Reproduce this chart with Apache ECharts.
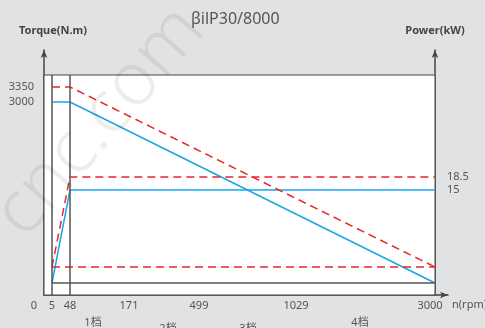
<!DOCTYPE html>
<html><head><meta charset="utf-8">
<script src="https://cdn.jsdelivr.net/npm/echarts@6/dist/echarts.min.js"></script>
<style>html,body{margin:0;padding:0;background:#e1e2e4}#c{width:485px;height:328px;background:#e1e2e4}</style>
</head><body><div id="c"></div>
<script>
// ---- data ----
const chartTitle = 'βilP30/8000';
const rpmTicks = [0, 5, 48, 171, 499, 1029, 3000];
const gearNames = ['1档', '2档', '3档', '4档'];
const torqueTicks = [3000, 3350];
const powerTicks = [15, 18.5];
const rpm = [5, 48, 3000];
const torqueS1 = [3000, 3000, 0];      // blue solid
const torqueMax = [3350, 3350, 265];   // red dashed
const powerS1 = [0, 15, 15];           // blue solid
const powerMax = [2.6, 18.5, 18.5];    // red dashed
const floorRpm = [5, 3000];
const powerMaxFloor = [2.6, 2.6];      // red dashed floor
const torqueFloor = [0, 0];            // dark base line

// ---- schematic (non-linear) scales: value anchors -> axis units ----
const X_SCALE = {v: [0, 5, 48, 171, 499, 1029, 3000], p: [0, 8, 26, 85, 155, 252, 391]};
const T_SCALE = {v: [0, 3000, 3350], p: [12, 193, 208]};
const P_SCALE = {v: [0, 15, 18.5], p: [12, 105, 118]};
const X_MAX = 404, Y_MAX = 245, PLOT_RIGHT = 391, PLOT_TOP = 220;
const gearLabelPos = [49, 124, 204, 316];

function interp(s, val) {
  const v = s.v, p = s.p;
  for (let i = 0; i < v.length - 1; i++) {
    if (val <= v[i + 1] || i === v.length - 2) {
      return p[i] + (val - v[i]) * (p[i + 1] - p[i]) / (v[i + 1] - v[i]);
    }
  }
}
const X = r => interp(X_SCALE, r);
const T = t => interp(T_SCALE, t);
const P = w => interp(P_SCALE, w);
const key = n => n.toFixed(3);

const xLabelMap = {}; rpmTicks.forEach(r => xLabelMap[key(X(r))] = r);
const tLabelMap = {}; torqueTicks.forEach(t => tLabelMap[key(T(t))] = t);
const pLabelMap = {}; powerTicks.forEach(w => pLabelMap[key(P(w))] = w);
const gMap = {}; gearLabelPos.forEach((g, i) => gMap[key(g)] = i);

const FONT = '"Noto Sans", "Noto Sans CJK SC", sans-serif';
const BLUE = '#1ba6e4', RED = '#e8262c', AXIS = '#444', TXT = '#555';
const DASH = [8, 5];
const BG = '#e1e2e4';

const chart = echarts.init(document.getElementById('c'));
chart.setOption({
  backgroundColor: BG,
  animation: false,
  title: {text: chartTitle, left: 186, top: 6,
    textStyle: {fontFamily: FONT, fontSize: 16, fontWeight: 'normal', color: TXT}},
  grid: [
    {left: 44, top: 50, width: X_MAX, height: Y_MAX, containLabel: false, outerBoundsMode: 'none'},
    {left: 44, top: 50, width: PLOT_RIGHT, height: Y_MAX, containLabel: false, outerBoundsMode: 'none'}
  ],
  xAxis: [{
    gridIndex: 0, type: 'value', min: 0, max: X_MAX,
    name: 'n(rpm)', nameLocation: 'end', nameGap: 4,
    nameTextStyle: {fontFamily: FONT, fontSize: 11, color: TXT, verticalAlign: 'top', padding: [4, 0, 0, 0]},
    axisLine: {show: true, onZero: false, lineStyle: {color: AXIS, width: 1.5}, symbol: ['none', 'arrow'], symbolSize: [5, 8]},
    axisTick: {show: false}, splitLine: {show: false},
    axisLabel: {
      customValues: rpmTicks.map(X), margin: 5,
      fontFamily: FONT, fontSize: 11, color: TXT,
      formatter: v => {
        const r = xLabelMap[key(v)];
        if (r === 0) return '{z|0}';
        if (r === 3000) return '{e|3000}';
        return String(r);
      },
      rich: {
        z: {fontFamily: FONT, fontSize: 11, color: TXT, padding: [0, 20, 0, 0]},
        e: {fontFamily: FONT, fontSize: 11, color: TXT, padding: [0, 10, 0, 0]}
      }
    }
  }, {
    gridIndex: 0, type: 'value', min: 0, max: X_MAX, position: 'bottom',
    axisLine: {show: false, onZero: false}, axisTick: {show: false}, splitLine: {show: false},
    axisLabel: {
      customValues: gearLabelPos, margin: 22,
      fontFamily: FONT, fontSize: 11, color: TXT,
      formatter: v => {
        const i = gMap[key(v)];
        return (i === 1 || i === 2) ? '{b|' + gearNames[i] + '}' : '{a|' + gearNames[i] + '}';
      },
      rich: {
        a: {fontFamily: FONT, fontSize: 11, color: TXT},
        b: {fontFamily: FONT, fontSize: 11, color: TXT, padding: [6, 0, 0, 0]}
      }
    }
  }, {
    gridIndex: 1, type: 'value', min: 0, max: PLOT_RIGHT, show: false,
    axisLine: {onZero: false}
  }],
  yAxis: [{
    gridIndex: 0, type: 'value', min: 0, max: Y_MAX, position: 'left',
    name: 'Torque(N.m)', nameLocation: 'end', nameGap: 14,
    nameTextStyle: {fontFamily: FONT, fontSize: 11, fontWeight: 'bold', color: AXIS, padding: [0, 0, 0, 18]},
    axisLine: {show: true, onZero: false, lineStyle: {color: AXIS, width: 1.5}, symbol: ['none', 'arrow'], symbolSize: [5, 8]},
    axisTick: {show: false}, splitLine: {show: false},
    axisLabel: {customValues: torqueTicks.map(T), margin: 10, fontFamily: FONT, fontSize: 11, color: TXT,
      formatter: v => String(tLabelMap[key(v)])}
  }, {
    gridIndex: 1, type: 'value', min: 0, max: Y_MAX, position: 'right',
    name: 'Power(kW)', nameLocation: 'end', nameGap: 14,
    nameTextStyle: {fontFamily: FONT, fontSize: 11, fontWeight: 'bold', color: AXIS},
    axisLine: {show: true, onZero: false, lineStyle: {color: AXIS, width: 1.5}, symbol: ['none', 'arrow'], symbolSize: [5, 8]},
    axisTick: {show: false}, splitLine: {show: false},
    axisLabel: {customValues: powerTicks.map(P), margin: 12, fontFamily: FONT, fontSize: 11, color: TXT,
      formatter: v => String(pLabelMap[key(v)])}
  }],
  series: [{
    type: 'line', z: 1, xAxisIndex: 0, yAxisIndex: 0, silent: true,
    data: [[0, 0], [PLOT_RIGHT, 0]], symbol: 'none', lineStyle: {opacity: 0},
    markArea: {silent: true,
      itemStyle: {color: '#ffffff', borderColor: AXIS, borderWidth: 1},
      data: [[{coord: [0, 0]}, {coord: [PLOT_RIGHT, PLOT_TOP]}]]},
    markLine: {silent: true, symbol: ['none', 'none'], label: {show: false},
      lineStyle: {color: '#555', width: 1.5, type: 'solid'},
      data: [
        [{coord: [X(rpm[0]), 0]}, {coord: [X(rpm[0]), PLOT_TOP]}],
        [{coord: [X(rpm[1]), 0]}, {coord: [X(rpm[1]), PLOT_TOP]}],
        [{coord: [X(floorRpm[0]), T(torqueFloor[0])]}, {coord: [X(floorRpm[1]), T(torqueFloor[1])]}]
      ]}
  }, {
    name: 'S1 torque', type: 'line', z: 3, symbol: 'none', xAxisIndex: 0, yAxisIndex: 0,
    data: rpm.map((r, i) => [X(r), T(torqueS1[i])]),
    lineStyle: {color: BLUE, width: 1.5}
  }, {
    name: 'S1 power', type: 'line', z: 3, symbol: 'none', xAxisIndex: 2, yAxisIndex: 1,
    data: rpm.map((r, i) => [X(r), P(powerS1[i])]),
    lineStyle: {color: BLUE, width: 1.5}
  }, {
    name: 'max torque', type: 'line', z: 4, symbol: 'none', xAxisIndex: 0, yAxisIndex: 0,
    data: rpm.map((r, i) => [X(r), T(torqueMax[i])]),
    lineStyle: {color: RED, width: 1.5, type: DASH}
  }, {
    name: 'max power', type: 'line', z: 4, symbol: 'none', xAxisIndex: 2, yAxisIndex: 1,
    data: rpm.map((r, i) => [X(r), P(powerMax[i])]),
    lineStyle: {color: RED, width: 1.5, type: DASH}
  }, {
    name: 'max floor', type: 'line', z: 4, symbol: 'none', xAxisIndex: 2, yAxisIndex: 1,
    data: floorRpm.map((r, i) => [X(r), P(powerMaxFloor[i])]),
    lineStyle: {color: RED, width: 1.5, type: DASH}
  }],
  graphic: [{
    type: 'text', z: 100, silent: true,
    x: 100, y: 122, rotation: 49 * Math.PI / 180,
    style: {text: 'cnc.com', fontFamily: FONT, fontSize: 74, fontWeight: 300,
      fill: 'rgba(0,0,0,0.07)', align: 'center', verticalAlign: 'middle'}
  }]
});
</script></body></html>
